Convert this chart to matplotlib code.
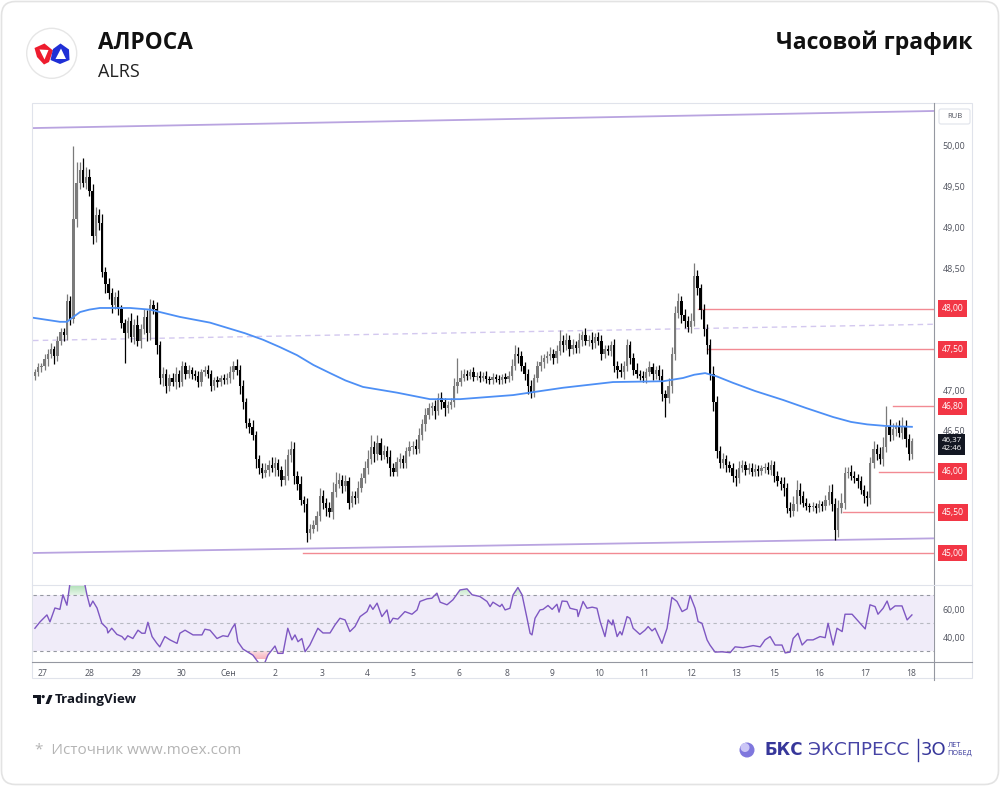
import numpy as np
import matplotlib
matplotlib.use('Agg')
import matplotlib.pyplot as plt
from matplotlib.patches import FancyBboxPatch, Rectangle, Circle, Polygon
from matplotlib.path import Path
from matplotlib.transforms import blended_transform_factory
from matplotlib.colors import to_rgb

plt.rcParams['font.family'] = ['Open Sans', 'DejaVu Sans']

# --- данные: часовые свечи ALRS (цена закрытия) ---
closes = [
    47.22, 47.28, 47.30, 47.38, 47.45, 47.50, 47.42, 47.60, 47.72, 47.68,
    48.10, 47.88, 49.10, 49.55, 49.70, 49.55, 49.62, 49.45, 48.90, 49.15,
    49.05, 48.45, 48.30, 48.20, 48.05, 48.15, 48.00, 47.82, 47.70, 47.85,
    47.65, 47.80, 47.60, 47.75, 47.90, 47.70, 48.05, 48.00, 47.55, 47.15,
    47.20, 47.05, 47.15, 47.10, 47.20, 47.10, 47.30, 47.20, 47.25, 47.20,
    47.18, 47.10, 47.22, 47.25, 47.20, 47.05, 47.12, 47.10, 47.15, 47.12,
    47.15, 47.22, 47.30, 47.25, 47.05, 46.85, 46.60, 46.55, 46.45, 46.15,
    46.05, 45.98, 46.02, 46.08, 46.05, 46.10, 46.02, 45.90, 45.95, 46.20,
    46.28, 45.95, 45.85, 45.65, 45.60, 45.25, 45.30, 45.35, 45.45, 45.70,
    45.62, 45.55, 45.50, 45.75, 45.85, 45.90, 45.82, 45.88, 45.62, 45.70,
    45.68, 45.80, 45.92, 46.05, 46.15, 46.30, 46.22, 46.35, 46.20, 46.25,
    46.18, 46.05, 46.00, 46.12, 46.15, 46.10, 46.25, 46.30, 46.32, 46.28,
    46.45, 46.58, 46.70, 46.78, 46.80, 46.75, 46.90, 46.85, 46.78, 46.82,
    46.85, 47.05, 47.10, 47.15, 47.20, 47.18, 47.22, 47.16, 47.18, 47.15,
    47.18, 47.14, 47.12, 47.16, 47.14, 47.12, 47.16, 47.14, 47.18, 47.30,
    47.45, 47.42, 47.30, 47.20, 47.05, 46.98, 47.15, 47.30, 47.35, 47.40,
    47.42, 47.45, 47.40, 47.48, 47.60, 47.55, 47.62, 47.50, 47.55, 47.52,
    47.62, 47.68, 47.60, 47.62, 47.58, 47.65, 47.60, 47.45, 47.50, 47.48,
    47.55, 47.30, 47.25, 47.22, 47.30, 47.55, 47.40, 47.25, 47.20, 47.18,
    47.15, 47.22, 47.28, 47.20, 47.25, 47.18, 46.95, 46.90, 47.05, 47.45,
    47.95, 48.10, 47.92, 47.85, 47.78, 47.85, 48.40, 48.25, 47.98, 47.75,
    47.55, 47.20, 46.85, 46.25, 46.10, 46.15, 46.08, 46.05, 45.95, 45.92,
    46.05, 46.08, 46.02, 46.05, 46.00, 46.03, 46.01, 46.04, 46.06, 46.02,
    46.08, 45.95, 45.88, 45.85, 45.80, 45.55, 45.52, 45.60, 45.78, 45.70,
    45.62, 45.58, 45.56, 45.58, 45.55, 45.60, 45.58, 45.65, 45.75, 45.60,
    45.28, 45.55, 45.62, 45.98, 46.00, 45.95, 45.92, 45.88, 45.78, 45.70,
    45.68, 46.10, 46.28, 46.22, 46.15, 46.30, 46.55, 46.45, 46.52, 46.55,
    46.48, 46.55, 46.40, 46.22, 46.37,
]
first_open = 47.18

# тени свечей, копейки
upper_wick = [
    4, 5, 3, 6, 5, 8, 4, 6, 5, 5,
    8, 6, 90, 25, 10, 15, 12, 10, 8, 10,
    8, 12, 6, 8, 5, 6, 8, 5, 6, 5,
    10, 8, 12, 6, 10, 8, 7, 6, 8, 5,
    8, 6, 5, 6, 8, 5, 6, 5, 6, 4,
    5, 6, 4, 5, 6, 5, 4, 5, 4, 5,
    6, 8, 6, 8, 6, 8, 5, 6, 8, 5,
    6, 5, 8, 6, 10, 8, 6, 5, 20, 8,
    10, 8, 6, 10, 5, 8, 6, 5, 6, 10,
    8, 6, 8, 12, 15, 8, 6, 8, 5, 6,
    6, 8, 6, 8, 12, 15, 8, 10, 6, 8,
    6, 8, 5, 6, 8, 6, 5, 8, 6, 8,
    8, 6, 8, 6, 5, 8, 6, 8, 6, 5,
    6, 10, 30, 10, 6, 5, 4, 6, 4, 5,
    4, 5, 4, 5, 4, 5, 4, 5, 6, 8,
    10, 8, 6, 5, 6, 8, 5, 6, 8, 5,
    6, 8, 5, 8, 14, 8, 8, 6, 8, 6,
    8, 5, 8, 6, 10, 5, 6, 8, 6, 5,
    6, 8, 6, 8, 6, 8, 5, 6, 8, 5,
    6, 5, 8, 6, 5, 6, 8, 5, 10, 8,
    8, 9, 6, 8, 6, 10, 16, 8, 6, 8,
    6, 8, 10, 8, 6, 8, 6, 5, 6, 8,
    8, 6, 5, 6, 5, 6, 5, 4, 5, 6,
    6, 5, 6, 5, 8, 6, 8, 10, 12, 8,
    6, 5, 4, 5, 4, 5, 4, 6, 8, 10,
    8, 10, 12, 8, 6, 8, 6, 5, 6, 5,
    6, 8, 10, 6, 8, 12, 25, 10, 8, 6,
    8, 12, 8, 6, 4,
]
lower_wick = [
    5, 4, 6, 5, 8, 5, 10, 6, 5, 8,
    6, 8, 5, 10, 8, 6, 8, 6, 10, 8,
    8, 6, 10, 8, 10, 5, 8, 6, 37, 6,
    6, 8, 6, 8, 6, 10, 8, 6, 10, 8,
    10, 8, 6, 5, 8, 6, 5, 6, 5, 6,
    5, 6, 5, 4, 5, 6, 5, 6, 5, 4,
    5, 6, 8, 6, 10, 8, 6, 8, 6, 10,
    8, 6, 5, 8, 6, 10, 8, 8, 6, 5,
    8, 10, 8, 6, 10, 12, 8, 6, 8, 6,
    8, 10, 6, 8, 6, 5, 8, 6, 8, 6,
    8, 6, 5, 6, 8, 6, 10, 8, 6, 5,
    8, 10, 6, 5, 8, 6, 5, 6, 8, 6,
    5, 6, 8, 6, 8, 10, 6, 8, 10, 6,
    5, 6, 8, 5, 4, 5, 4, 5, 4, 5,
    4, 5, 4, 5, 4, 5, 4, 5, 4, 6,
    5, 8, 6, 8, 10, 8, 6, 5, 6, 8,
    6, 5, 8, 6, 5, 8, 6, 8, 5, 6,
    6, 8, 5, 6, 8, 6, 5, 8, 6, 5,
    6, 8, 10, 6, 8, 6, 8, 6, 5, 6,
    5, 6, 5, 8, 6, 6, 8, 23, 6, 8,
    8, 6, 10, 8, 6, 8, 6, 8, 10, 8,
    10, 8, 10, 8, 6, 5, 8, 6, 8, 10,
    6, 5, 6, 5, 6, 5, 6, 5, 6, 5,
    6, 8, 6, 8, 10, 6, 8, 6, 8, 10,
    6, 5, 6, 5, 6, 5, 6, 5, 6, 8,
    12, 8, 6, 8, 6, 5, 6, 8, 6, 8,
    10, 8, 6, 8, 6, 8, 6, 8, 6, 8,
    6, 8, 10, 8, 6,
]

# скользящая средняя (синяя), точки по номеру свечи
ma_idx = [-0.6, 7.8, 10, 12, 14.1, 17, 20.3, 29.7, 35.9, 45.3, 54.7, 65.6, 71.25, 76.5,
          81.9, 87, 92.2, 97, 102.5, 113.1, 123.4, 132.8, 149.4, 165, 180.6, 196.25,
          202.5, 206, 209.4, 213, 218.1, 225, 233.75, 241, 249.4, 255, 260, 266, 274]
ma_val = [47.89, 47.84, 47.84, 47.90, 47.96, 47.99, 48.01, 48.01, 47.99, 47.90, 47.83,
          47.70, 47.62, 47.53, 47.43, 47.31, 47.21, 47.12, 47.04, 46.97, 46.89, 46.89,
          46.94, 47.03, 47.10, 47.11, 47.15, 47.19, 47.21, 47.17, 47.09, 46.99, 46.88,
          46.78, 46.67, 46.61, 46.58, 46.56, 46.55]

# канал (левый и правый край)
channel_top = [50.22, 50.43]
channel_bottom = [45.00, 45.18]
channel_mid = [47.61, 47.81]

# уровни
level_prices = [48.00, 47.50, 46.80, 46.00, 45.50, 45.00]
level_start = [207.2, 210, 268, 263.75, 252.5, 83.75]
level_labels = ['48,00', '47,50', '46,80', '46,00', '45,50', '45,00']
last_price = '46,37\n42:46'

price_ticks = [46.5, 47.0, 48.5, 49.0, 49.5, 50.0]
price_tick_labels = ['46,50', '47,00', '48,50', '49,00', '49,50', '50,00']

# RSI
rsi_idx = [0, 1.6, 3.75, 4.7, 6.25, 7.8, 8.75, 10, 10.9, 11.9, 13.1, 14.1, 15, 15.6,
           16.25, 17.2, 18.1, 19.4, 20.9, 22.5, 22.8, 24, 25.6, 27.2, 28.1, 29, 30.6,
           32.2, 33.4, 34.4, 35.3, 36.6, 38.1, 39, 40.6, 42.2, 44.4, 45.3, 46.9, 49.4,
           52.2, 53.1, 54.7, 56.9, 58.75, 60.3, 61.6, 62.5, 63.4, 65, 68.1, 69.7, 70.9,
           71.9, 72.8, 75, 75.9, 77.5, 79, 80.3, 81.25, 82.2, 83.4, 84.4, 85.9, 88.4,
           90, 92.2, 93.75, 95.3, 96.9, 98.4, 100, 101.6, 103.75, 104.7, 105.6, 106.9,
           108.4, 110, 110.9, 111.9, 113.4, 115.6, 117.8, 119.4, 120.3, 122.5, 124,
           125.6, 126.6, 128.75, 130.6, 132.8, 135, 136.6, 139, 141.25, 142.2, 143.1,
           145.3, 145.9, 146.9, 148.4, 149.4, 150.9, 152.2, 153.75, 154.7, 155.3,
           156.25, 157.8, 158.75, 160.3, 161.6, 163.1, 163.75, 164.7, 166.25, 167.2,
           169.4, 169.7, 171.25, 172.5, 174.1, 175.6, 176.6, 178.1, 179.1, 180.3,
           180.6, 181.9, 182.8, 183.4, 185, 185.9, 186.9, 189, 190.6, 191.6, 192.8,
           193.75, 195.9, 197.5, 199, 200.6, 202.2, 203.75, 204.7, 206.25, 207.2,
           208.4, 210, 210.9, 212.5, 214.7, 217.2, 218.75, 221.25, 224.4, 226.6,
           228.1, 229.7, 231.25, 233.4, 234.4, 235.9, 236.9, 238.4, 239.7, 241.25,
           243.1, 245.3, 246.9, 247.8, 249.4, 250.6, 252.2, 253.1, 255.3, 257.8,
           259.4, 260.9, 262.5, 263.4, 265, 266.25, 267.2, 268.75, 270.9, 272.5, 274]
rsi_val = [46.4, 51, 56, 51, 61, 60, 70.5, 63, 78, 80, 82, 84, 81, 78,
           70.5, 62, 66, 61, 50, 46.4, 43, 46.4, 42, 40.4, 38, 41, 39,
           45, 42.8, 42.8, 50.7, 40.4, 35.5, 33, 40.4, 38, 35.5, 42.8, 45, 41.6,
           41.6, 45.7, 45, 39, 41, 40.4, 46.4, 49.5, 36.7, 31.4, 27, 22, 20,
           22, 27, 33.6, 28.3, 28.3, 46.4, 38, 41.6, 36.7, 39, 29.5, 34.3, 46.4,
           43, 43, 48.8, 53.6, 52.4, 44, 47.6, 54.8, 58.4, 63.3, 60, 64.5,
           54.8, 59.6, 50, 53.6, 53, 58.4, 56.5, 59.6, 65.7, 67.6, 68,
           71.7, 65.2, 63.3, 66.9, 74, 74.8, 70.5, 69.3, 65.7, 62, 65.2,
           62, 63.7, 59.6, 60.8, 70.5, 75.8, 70.5, 53.6, 42.8, 41.6,
           53.6, 59.6, 60, 62.8, 60, 63.7, 58, 66, 65.7, 60.8,
           59.6, 54.8, 65.7, 60.8, 61.6, 60.8, 51.2, 40.4, 52.4, 48.8,
           52.4, 40.4, 44, 41.6, 54.8, 53.6, 46.4, 42, 45, 47.6, 44.5,
           46.4, 35.5, 46.4, 68.6, 65.7, 58.4, 60.4, 70, 60.8, 51.2,
           50, 38, 34.3, 29.2, 29.4, 28.8, 33, 32.4, 33.9, 33,
           38, 40.4, 34.3, 34.3, 28.6, 29.2, 39, 42.8, 34.3, 38,
           38, 40.4, 39.6, 50, 34.3, 46.4, 44, 56.5, 56.5, 50,
           45.9, 63.3, 62, 56.5, 60.8, 66, 59.6, 62.5, 62.5, 52.4, 56]

day_ticks = [2.5, 17.2, 31.6, 45.9, 60.3, 75, 89.7, 103.8, 118, 132.5, 147.5, 161.6,
             176.25, 190.3, 205, 219, 231, 245, 259.4, 273.75]
day_labels = ['27', '28', '29', '30', 'Сен', '2', '3', '4', '5', '6', '8', '9',
              '10', '11', '12', '13', '15', '16', '17', '18']


def gradient_fill(axis, xs, ys, base, full, color, mask, a0=0.35):
    # заливка зоны перекупленности/перепроданности с плавным градиентом
    poly = axis.fill_between(xs, base, ys, where=mask, interpolate=True, color='none', lw=0)
    paths = poly.get_paths()
    if not paths:
        return
    lo_v, hi_v = sorted([base, full])
    n = 64
    vals = np.linspace(lo_v, hi_v, n)
    alpha = np.clip(a0 + (1 - a0) * np.abs(vals - base) / abs(full - base), 0, 1)
    img = np.zeros((n, 1, 4))
    img[:, 0, :3] = to_rgb(color)
    img[:, 0, 3] = alpha
    im = axis.imshow(img, extent=[xs.min(), xs.max(), lo_v, hi_v], origin='lower',
                     aspect='auto', zorder=2, interpolation='bilinear')
    im.set_clip_path(Path.make_compound_path(*paths), axis.transData)


# ---------------- рисуем ----------------
fig = plt.figure(figsize=(10, 7.86), dpi=100)

# фон и оформление в пикселях
bg = fig.add_axes([0, 0, 1, 1])
bg.set_xlim(0, 1000)
bg.set_ylim(786, 0)
bg.axis('off')
bg.add_patch(FancyBboxPatch((1.5, 1.5), 997, 783, boxstyle='round,pad=0,rounding_size=14',
                            ec='#e3e3e3', fc='white', lw=1.2))
bg.add_patch(Rectangle((32, 103), 940, 575, ec='#e0e3eb', fc='none', lw=0.8))
bg.plot([934, 934], [103, 680], color='#9598a1', lw=0.8)
bg.plot([32, 972], [585, 585], color='#e0e3eb', lw=0.8)
bg.plot([32, 972], [662, 662], color='#9598a1', lw=0.8)

# логотип
bg.add_patch(Circle((51.7, 53.3), 25, fc='white', ec='#e6e6e6', lw=1))
bg.add_patch(Polygon([(34.5, 48), (44.5, 43.5), (53, 50.5), (49, 62), (44, 64.5), (37, 57)],
                     fc='#ee1c2e', ec='none'))
bg.add_patch(Polygon([(39.5, 49.5), (48.5, 50), (44.5, 59.5)], fc='white', ec='none'))
bg.add_patch(Polygon([(50.5, 60), (53, 49), (60.5, 43.5), (69, 49.5), (69.5, 60), (60, 64)],
                     fc='#1f2fd6', ec='none'))
bg.add_patch(Polygon([(55.5, 59), (61, 48.5), (66, 59)], fc='white', ec='none'))

bg.text(98, 49.3, 'АЛРОСА', fontsize=16.3, fontweight='bold', va='baseline', ha='left', color='#111')
bg.text(98, 77.3, 'ALRS', fontsize=13, va='baseline', ha='left', color='#222')
bg.text(973, 49.3, 'Часовой график', fontsize=16.6, fontweight='bold', va='baseline', ha='right',
        color='#111')

# TradingView
bg.add_patch(Rectangle((33, 695), 7.5, 2.8, fc='#131722', ec='none'))
bg.add_patch(Rectangle((37, 695), 3.5, 9, fc='#131722', ec='none'))
bg.add_patch(Circle((43.2, 696.6), 1.6, fc='#131722', ec='none'))
bg.add_patch(Polygon([(45.5, 704), (49, 695), (52.5, 695), (49, 704)], fc='#131722', ec='none'))
bg.text(55, 699.5, 'TradingView', fontsize=9.6, fontweight='bold', va='center', ha='left',
        color='#131722')

# подвал
bg.text(35, 750, '*  Источник www.moex.com', fontsize=11, va='center', ha='left', color='#b4b4b4')
bg.add_patch(Circle((747, 750), 7.5, fc='#7f77dd', ec='none'))
bg.add_patch(Circle((745, 747.5), 4.5, fc='#cbc6f6', ec='none'))
bg.text(765, 750, 'БКС', fontsize=12, fontweight='bold', va='center', ha='left',
        color='#37379a', family='DejaVu Sans')
bg.text(808, 750, 'ЭКСПРЕСС', fontsize=13.3, va='center', ha='left', color='#4643a5',
        family='DejaVu Sans')
bg.plot([918, 918], [739, 761], color='#37379a', lw=1)
bg.text(921, 750, '3О', fontsize=13, va='center', ha='left', color='#37379a', family='DejaVu Sans')
bg.text(947, 745.5, 'ЛЕТ', fontsize=5.2, va='center', ha='left', color='#37379a')
bg.text(947, 753.5, 'ПОБЕД', fontsize=5.2, va='center', ha='left', color='#37379a')

# RUB
bg.add_patch(FancyBboxPatch((939, 109), 31, 15, boxstyle='round,pad=0,rounding_size=2',
                            fc='white', ec='#e0e3eb', lw=0.8))
bg.text(954.5, 116.8, 'RUB', fontsize=5.5, va='center', ha='center', color='#50535e')

# ---- основной график ----
ax = fig.add_axes([0.033, 0.25573, 0.901, 0.61323])
ax.set_facecolor('none')
xlim = (-0.6, 280.9)
ax.set_xlim(*xlim)
ax.set_ylim(44.607, 50.528)
for s in ax.spines.values():
    s.set_visible(False)

c = np.array(closes)
o = np.concatenate([[first_open], c[:-1]])
hi = np.maximum(o, c) + np.array(upper_wick) / 100
lo = np.minimum(o, c) - np.array(lower_wick) / 100
x = np.arange(len(c))
up = c >= o
col = np.where(up, '#7a7a7a', '#000000')
body = np.where(np.abs(c - o) < 0.015, 0.015, c - o)

# канал
ax.plot(xlim, channel_top, color='#b9a4e0', lw=1.3, zorder=2)
ax.plot(xlim, channel_bottom, color='#b9a4e0', lw=1.3, zorder=2)
ax.plot(xlim, channel_mid, color='#d3c8ef', lw=1, ls=(0, (4, 3)), zorder=2)

# уровни
for p, s in zip(level_prices, level_start):
    ax.plot([s, xlim[1]], [p, p], color='#f28a93', lw=1, zorder=2)

ax.vlines(x, lo, hi, colors=col, lw=0.9, zorder=3)
ax.bar(x, body, bottom=o, width=0.74, color=col, lw=0, zorder=4)

ax.plot(ma_idx, ma_val, color='#4d8ff5', lw=1.3, zorder=5, solid_joinstyle='round')

ax.set_xticks([])
ax.yaxis.tick_right()
ax.set_yticks(price_ticks)
ax.set_yticklabels(price_tick_labels)
ax.tick_params(axis='y', length=0, pad=6, labelsize=6.4, labelcolor='#50535e')

tr = blended_transform_factory(ax.transAxes, ax.transData)
for p, lab in zip(level_prices, level_labels):
    ax.text(1.0085, p, lab, transform=tr, fontsize=6.2, color='white', va='center', ha='left',
            bbox=dict(boxstyle='square,pad=0.45', fc='#f23645', ec='none'), clip_on=False)
ax.text(1.0085, 46.33, last_price, transform=tr, fontsize=5.8, color='white', va='center',
        ha='left', linespacing=1.1, bbox=dict(boxstyle='square,pad=0.4', fc='#131722', ec='none'),
        clip_on=False)

# ---- RSI ----
ar = fig.add_axes([0.033, 0.15776, 0.901, 0.09797])
ar.set_facecolor('none')
ar.set_xlim(*xlim)
ar.set_ylim(22.07, 77.57)
for s in ar.spines.values():
    s.set_visible(False)
ri = np.array(rsi_idx)
rv = np.array(rsi_val)
ar.axhspan(30, 70, color='#f0ecf9', lw=0, zorder=1)
gradient_fill(ar, ri, rv, 70, 76, '#b5e2bb', rv >= 70)
gradient_fill(ar, ri, rv, 30, 24, '#f7b3bd', rv <= 30)
for lvl, cc in [(70, '#9598a1'), (50, '#b8bac2'), (30, '#9598a1')]:
    ar.axhline(lvl, color=cc, lw=0.8, ls=(0, (3, 3)), zorder=2)
ar.plot(ri, rv, color='#7e57c2', lw=1, zorder=3)
ar.set_xlim(*xlim)
ar.set_ylim(22.07, 77.57)

ar.yaxis.tick_right()
ar.set_yticks([60, 40])
ar.set_yticklabels(['60,00', '40,00'])
ar.tick_params(axis='y', length=0, pad=6, labelsize=6.4, labelcolor='#50535e')
ar.set_xticks(day_ticks)
ar.set_xticklabels(day_labels)
ar.tick_params(axis='x', length=0, pad=5, labelsize=6.2, labelcolor='#50535e')

fig.savefig('out.png', dpi=100)
